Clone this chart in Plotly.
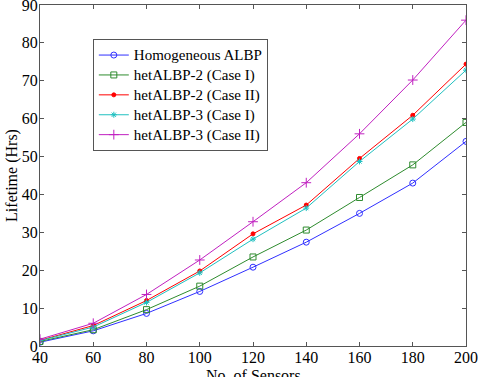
import plotly.graph_objects as go

sensors = [40, 60, 80, 100, 120, 140, 160, 180, 200]
homogeneous = [1.0, 4.0, 8.6, 14.4, 20.8, 27.4, 35.0, 43.0, 54.0]
het2_case1 = [1.2, 4.3, 9.6, 15.8, 23.5, 30.6, 39.2, 47.8, 59.0]
het2_case2 = [1.5, 5.4, 12.0, 19.8, 29.6, 37.2, 49.5, 60.9, 74.4]
het3_case1 = [1.4, 5.0, 11.5, 19.3, 28.2, 36.4, 48.7, 59.9, 72.8]
het3_case2 = [1.8, 6.0, 13.6, 22.7, 32.8, 43.1, 56.0, 70.2, 86.0]

names = ["Homogeneous ALBP", "hetALBP-2 (Case I)", "hetALBP-2 (Case II)",
         "hetALBP-3 (Case I)", "hetALBP-3 (Case II)"]
series = [homogeneous, het2_case1, het2_case2, het3_case1, het3_case2]
colors = ["#3030ff", "#2e8b2e", "#ff0000", "#20c0c0", "#c020c0"]
symbols = ["circle-open", "square-open", "circle", "asterisk-open", "cross-thin-open"]
sizes = [6, 6, 4, 5, 7]

font = "Liberation Serif"

fig = go.Figure()
for n, s, c, sym, sz in zip(names, series, colors, symbols, sizes):
    fig.add_trace(go.Scatter(
        x=sensors, y=s, mode="lines+markers",
        name='<span style="font-size:15px">' + n + '</span>',
        line=dict(color=c, width=1),
        marker=dict(symbol=sym, color=c, size=sz, line=dict(color=c, width=1)),
    ))

axis_common = dict(
    showgrid=False, zeroline=False, showline=True, linecolor="#555555", linewidth=1,
    mirror="ticks", ticks="inside", ticklen=4, tickcolor="#555555",
    tickfont=dict(family=font, size=16, color="black"),
    ticklabeloverflow="allow", automargin=False,
)
fig.update_layout(
    template="none",
    width=478, height=377,
    margin=dict(l=40, r=12, t=5, b=31),
    paper_bgcolor="white", plot_bgcolor="white",
    font=dict(family=font, color="black"),
    xaxis=dict(range=[40, 200], tickvals=sensors, ticklabelstandoff=-3, **axis_common),
    yaxis=dict(range=[0, 90], tickvals=list(range(0, 91, 10)), ticklabelstandoff=-2,
               title=dict(text="Lifetime (Hrs)", font=dict(family=font, size=16), standoff=0),
               **axis_common),
    showlegend=True,
    legend=dict(x=0.124, y=0.9, xanchor="left", yanchor="top",
                bgcolor="white", bordercolor="#555555", borderwidth=1,
                font=dict(family=font, size=13), tracegroupgap=0,
                itemwidth=30),
    annotations=[dict(text="No. of Sensors", xref="paper", yref="paper",
                      x=0.5, y=-0.056, xanchor="center", yanchor="top",
                      showarrow=False, font=dict(family=font, size=16))],
)
fig.write_html("out.html", config={"displayModeBar": False},
               post_script="document.body.style.margin='0';")
